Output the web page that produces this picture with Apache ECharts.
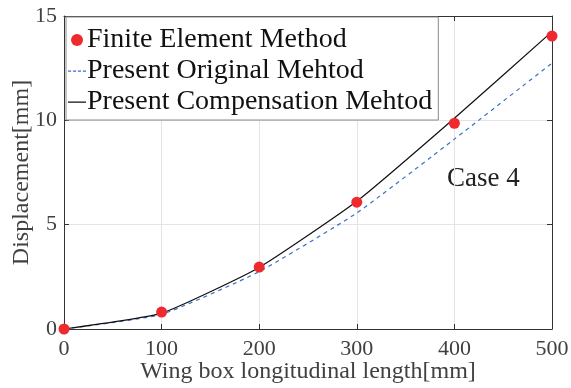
<!DOCTYPE html>
<html><head><meta charset="utf-8">
<script src="https://cdn.jsdelivr.net/npm/echarts@6/dist/echarts.min.js"></script>
<style>html,body{margin:0;padding:0;background:#fff}#c{width:571px;height:388px}</style>
</head><body><div id="c"></div>
<script>
var lengths = [0, 100, 200, 300, 400, 500];
var femValues = [0, 0.81, 2.97, 6.08, 9.86, 14.04];
var originalValues = [0, 0.70, 2.75, 5.56, 9.10, 12.74];
var compensationValues = [0, 0.76, 2.95, 6.12, 10.1, 14.25];
var xTicks = [0, 100, 200, 300, 400, 500];
var yTicks = [0, 5, 10, 15];

function pairs(xs, ys){ return xs.map(function(x,i){return [x, ys[i]];}); }
var font = '"Liberation Serif", "Times New Roman", serif';
var dashIcon = 'path://M0,0h0.01v0.01h-0.01Z M20,12h0.01v0.01h-0.01Z M0,5.4h3.5v1.3h-3.5Z M5.5,5.4h3.5v1.3h-3.5Z M11,5.4h3.5v1.3h-3.5Z M16.5,5.4h3.5v1.3h-3.5Z';
var solidIcon = 'path://M0,0h0.01v0.01h-0.01Z M20,12h0.01v0.01h-0.01Z M0,5.4h20v1.3h-20Z';
var chart = echarts.init(document.getElementById('c'));
chart.setOption({
  animation:false,
  textStyle:{fontFamily:font},
  grid:{left:64, right:19, top:16, bottom:59, containLabel:false, outerBoundsMode:'none'},
  legend:{
    orient:'vertical', left:66, top:17,
    padding:[9,6,4,2], itemGap:3,
    backgroundColor:'#fff', borderColor:'#8a8a8a', borderWidth:1,
    itemWidth:18, itemHeight:12,
    textStyle:{fontFamily:font, fontSize:28, lineHeight:28, color:'#111', padding:[0,0,0,-4]},
    data:[
      {name:'Finite Element Method', icon:'circle', itemStyle:{color:'#ee2a2f'}},
      {name:'Present Original Mehtod', icon:dashIcon, itemStyle:{color:'#3a6fc9', borderWidth:0}},
      {name:'Present Compensation Mehtod', icon:solidIcon, itemStyle:{color:'#111', borderWidth:0}}
    ]
  },
  xAxis:[{
    type:'value', min:0, max:500, interval:100,
    name:'Wing box longitudinal length[mm]', nameLocation:'middle', nameGap:31, nameMoveOverlap:false,
    nameTextStyle:{fontFamily:font, fontSize:24, color:'#404040'},
    axisLine:{lineStyle:{color:'#333', width:1}},
    axisTick:{inside:true, length:5, lineStyle:{color:'#333'}},
    axisLabel:{fontFamily:font, fontSize:22, color:'#404040', margin:9},
    splitLine:{show:true, lineStyle:{color:'#e4e4e4'}}
  },{
    type:'value', min:0, max:500, interval:100, position:'top',
    axisLine:{show:true, onZero:false, lineStyle:{color:'#333'}},
    axisTick:{inside:true, length:5, lineStyle:{color:'#333'}},
    axisLabel:{show:false}, splitLine:{show:false}
  }],
  yAxis:[{
    type:'value', min:0, max:15, interval:5,
    name:'Displacement[mm]', nameLocation:'middle', nameGap:30, nameMoveOverlap:false,
    nameTextStyle:{fontFamily:font, fontSize:24, color:'#404040'},
    axisLine:{show:true, lineStyle:{color:'#333'}},
    axisTick:{show:true, inside:true, length:5, lineStyle:{color:'#333'}},
    axisLabel:{fontFamily:font, fontSize:22, color:'#404040', margin:7},
    splitLine:{show:true, lineStyle:{color:'#e4e4e4'}}
  },{
    type:'value', min:0, max:15, interval:5, position:'right',
    axisLine:{show:true, onZero:false, lineStyle:{color:'#333'}},
    axisTick:{show:true, inside:true, length:5, lineStyle:{color:'#333'}},
    axisLabel:{show:false}, splitLine:{show:false}
  }],
  graphic:[{type:'text', left:447, top:165, style:{text:'Case 4', font:'27px '+font, fill:'#222'}}],
  series:[
    {name:'Present Original Mehtod', type:'line', data:pairs(lengths, originalValues),
     showSymbol:false, symbol:'none', smooth:0.15, z:2,
     lineStyle:{color:'#3a6fc9', width:1.2, type:[4,4]}, itemStyle:{color:'#3a6fc9'}},
    {name:'Present Compensation Mehtod', type:'line', data:pairs(lengths, compensationValues),
     showSymbol:false, symbol:'none', smooth:0.15, z:3,
     lineStyle:{color:'#111', width:1.2}, itemStyle:{color:'#111'}},
    {name:'Finite Element Method', type:'scatter', data:pairs(lengths, femValues),
     symbolSize:11, z:4, itemStyle:{color:'#ee2a2f', opacity:1}}
  ]
});
</script></body></html>
